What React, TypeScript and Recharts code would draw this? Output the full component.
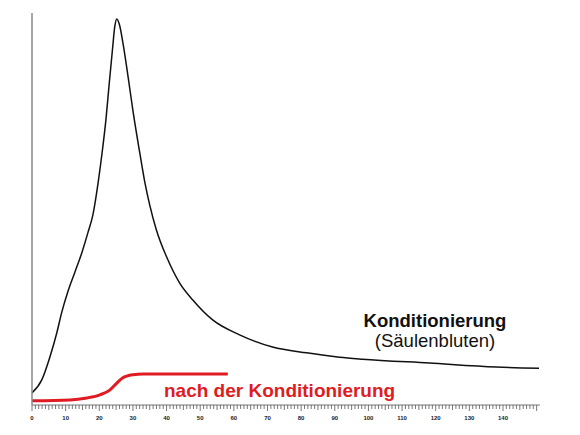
import { LineChart, Line, XAxis, YAxis } from "recharts";

// black trace: Konditionierung (Säulenbluten)
const condX = [0, 2.9, 5.3, 7.4, 8.8, 10.7, 12.8, 14.8, 16.6, 18.1, 19.7, 21.0, 22.0, 22.9, 23.9, 24.6, 25.2, 26.0, 27.1, 28.6, 30.1, 32.0, 33.5, 35.0, 37.0, 40.0, 43.9, 47.8, 53.7, 61.7, 71.5, 81.6, 91.4, 98.2, 118.1, 138.0, 150.7];
const condY = [3.1, 6.4, 12.2, 18.5, 23.5, 29.0, 34.0, 38.8, 43.9, 48.5, 57.0, 65.5, 73.0, 81.5, 90.5, 96.5, 98.5, 97.0, 92.0, 83.5, 74.5, 64.5, 57.0, 51.0, 44.6, 37.8, 31.1, 26.8, 21.7, 17.9, 14.8, 13.3, 12.2, 11.7, 10.7, 9.7, 9.4];

// red trace: nach der Konditionierung
const afterX = [0, 11.3, 16.3, 20.2, 23.1, 25.2, 26.9, 30.0, 33.0, 58.2];
const afterY = [1.1, 1.3, 1.8, 2.6, 3.8, 5.6, 6.9, 7.7, 7.9, 7.9];

const tickLabels = [0, 10, 20, 30, 40, 50, 60, 70, 80, 90, 100, 110, 120, 130, 140];
const minorTicks = Array.from({ length: 151 }, (_, i) => i);

const condData = condX.map((x, i) => ({ x, y: condY[i] }));
const afterData = afterX.map((x, i) => ({ x, y: afterY[i] }));

const font = "Arial, 'Liberation Sans', sans-serif";
const red = "#e01b22";

function TimeTick(props: any) {
  const { x, y, payload } = props;
  const v = payload.value;
  const major = v % 10 === 0;
  const len = major ? 6 : v % 5 === 0 ? 5 : 4;
  return (
    <g>
      <line x1={x} y1={y} x2={x} y2={y + len} stroke="#555" strokeWidth={0.8} />
      {major && tickLabels.includes(v) && (
        <text x={x} y={y + 15} textAnchor="middle" fontSize={6} fontWeight="bold" fill="#222" fontFamily={font}>
          {v}
        </text>
      )}
    </g>
  );
}

export default function App() {
  return (
    <div style={{ position: "absolute", left: 0, top: 0, width: 580, height: 435, background: "#fff" }}>
      <LineChart width={580} height={435} margin={{ top: 13, right: 40, left: 0, bottom: 0 }}>
        <XAxis
          type="number"
          dataKey="x"
          domain={[0, 151]}
          ticks={minorTicks}
          interval={0}
          tick={<TimeTick />}
          tickLine={false}
          tickSize={0}
          tickMargin={0}
          axisLine={{ stroke: "#777", strokeWidth: 1 }}
          height={30}
          allowDataOverflow
        />
        <YAxis type="number" domain={[0, 100]} width={32} tick={false} tickLine={false} axisLine={{ stroke: "#888", strokeWidth: 1.5 }} />
        <Line data={condData} dataKey="y" type="monotone" stroke="#111" strokeWidth={1.5} dot={false} isAnimationActive={false} />
        <Line data={afterData} dataKey="y" type="monotone" stroke={red} strokeWidth={3} dot={false} isAnimationActive={false} />
      </LineChart>
      <div style={{ position: "absolute", left: 335, width: 200, top: 311, textAlign: "center", fontFamily: font, fontSize: 18.5, lineHeight: "20px", color: "#111" }}>
        <div style={{ fontWeight: "bold" }}>Konditionierung</div>
        <div>(Säulenbluten)</div>
      </div>
      <div style={{ position: "absolute", left: 164, top: 380, fontFamily: font, fontSize: 19, lineHeight: "22px", fontWeight: "bold", color: red, whiteSpace: "nowrap" }}>
        nach der Konditionierung
      </div>
    </div>
  );
}
